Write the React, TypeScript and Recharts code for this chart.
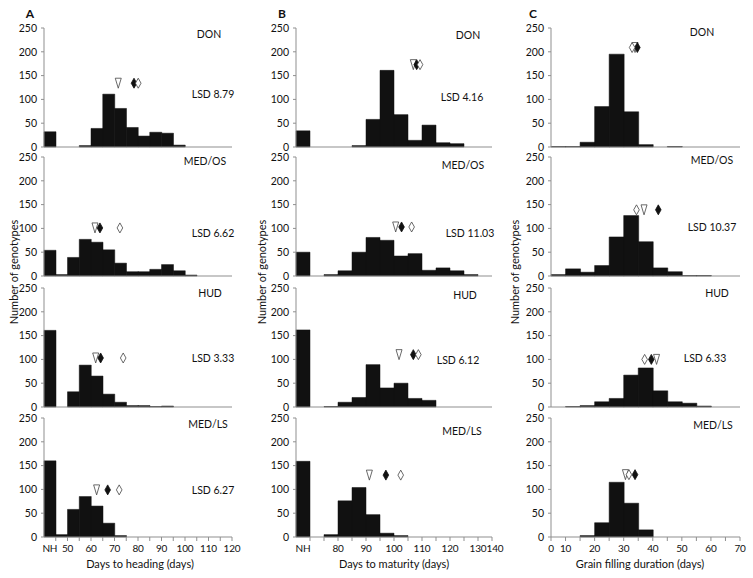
import React from "react";
import { ComposedChart, Bar, Scatter, XAxis, YAxis, ReferenceLine } from "recharts";

const FONT = "Lato, 'Open Sans', Arial, sans-serif";
const AXIS = "#8f8f8f";
const INK = "#111111";

const sites = ["DON", "MED/OS", "HUD", "MED/LS"];
const countTicks = [0, 50, 100, 150, 200, 250];

// A - days to heading, 5-day bins, first bin = genotypes that did not head (NH)
const headingBins = [40, 45, 50, 55, 60, 65, 70, 75, 80, 85, 90, 95, 100, 105, 110, 115];
const headingDON = [32, 0, 0, 3, 39, 111, 81, 41, 23, 31, 29, 4, 0, 0, 0, 0];
const headingMEDOS = [54, 3, 39, 77, 71, 55, 27, 9, 9, 14, 24, 11, 2, 0, 0, 0];
const headingHUD = [161, 0, 32, 88, 65, 27, 10, 3, 3, 1, 2, 0, 0, 0, 0, 0];
const headingMEDLS = [160, 5, 58, 85, 65, 29, 3, 0, 0, 0, 0, 0, 0, 0, 0, 0];
const headingTicks = [42.5, 45, 50, 55, 60, 65, 70, 75, 80, 85, 90, 95, 100, 105, 110, 115, 120];
const headingTickText = ["NH", "", "50", "", "60", "", "70", "", "80", "", "90", "", "100", "", "110", "", "120"];
const headingLSD = ["8.79", "6.62", "3.33", "6.27"];
const headingTri = [71.6, 61.7, 62.0, 62.4];
const headingDia = [78.3, 63.8, 64.1, 67.1];
const headingOpen = [80.1, 72.3, 73.7, 72.0];
const headingMarkY = [134, 101, 103, 99];

// B - days to maturity
const maturityBins = [65, 70, 75, 80, 85, 90, 95, 100, 105, 110, 115, 120, 125, 130];
const maturityDON = [34, 0, 0, 0, 3, 58, 161, 68, 14, 46, 9, 7, 0, 0];
const maturityMEDOS = [50, 0, 3, 11, 50, 81, 75, 42, 47, 12, 17, 11, 3, 0];
const maturityHUD = [162, 0, 1, 10, 20, 89, 40, 50, 18, 14, 0, 0, 0, 0];
const maturityMEDLS = [159, 0, 5, 76, 104, 47, 8, 3, 0, 0, 0, 0, 0, 0];
const maturityTicks = [67.5, 70, 75, 80, 85, 90, 95, 100, 105, 110, 115, 120, 125, 130, 135];
const maturityTickText = ["NH", "", "", "80", "", "90", "", "100", "", "110", "", "120", "", "130", "140"];
const maturityLSD = ["4.16", "11.03", "6.12", ""];
const maturityTri = [106.9, 100.6, 101.8, 91.2];
const maturityDia = [108.1, 102.7, 106.9, 97.1];
const maturityOpen = [109.3, 106.3, 108.7, 102.4];
const maturityMarkY = [173, 103, 110, 130];

// C - grain filling duration, first bin covers 0-10 days
const grainBins = [5, 10, 15, 20, 25, 30, 35, 40, 45, 50, 55, 60, 65];
const grainDON = [1, 1, 10, 85, 195, 74, 5, 0, 1, 0, 0, 0, 0];
const grainMEDOS = [3, 15, 8, 22, 82, 127, 72, 17, 9, 1, 1, 0, 0];
const grainHUD = [0, 1, 3, 11, 18, 67, 82, 34, 11, 8, 2, 0, 0];
const grainMEDLS = [0, 0, 3, 30, 115, 71, 15, 0, 0, 0, 0, 0, 0];
const grainTicks = [5, 10, 15, 20, 25, 30, 35, 40, 45, 50, 55, 60, 65, 70];
const grainTickText = ["0", "10", "", "20", "", "30", "", "40", "", "50", "", "60", "", "70"];
const grainLSD = ["", "10.37", "6.33", ""];
const grainTri = [33.9, 37.0, 41.3, 30.6];
const grainDia = [34.7, 41.9, 39.5, 33.9];
const grainOpen = [32.9, 34.4, 37.2, 31.8];
const grainMarkY = [209, 139, 100, 131];

// layout
const PLOT_H = 119;
const TOP_M = 6;
const RIGHT_M = 14;
const rowTops = [28, 157, 288, 418];

const columns = [
  {
    letter: "A", plotLeft: 44, plotW: 188, bins: headingBins,
    counts: [headingDON, headingMEDOS, headingHUD, headingMEDLS],
    ticks: headingTicks, tickText: headingTickText, lsd: headingLSD,
    tri: headingTri, dia: headingDia, open: headingOpen, markY: headingMarkY,
    title: "Days to heading (days)", titleX: 140, letterX: 30, yTitleX: 14, lastDx: 0,
    siteX: [209, 205, 210, 208], siteY: [34, 161, 293, 424],
    lsdX: [213, 213, 213, 213], lsdY: [94, 233, 358, 490],
  },
  {
    letter: "B", plotLeft: 296, plotW: 196, bins: maturityBins,
    counts: [maturityDON, maturityMEDOS, maturityHUD, maturityMEDLS],
    ticks: maturityTicks, tickText: maturityTickText, lsd: maturityLSD,
    tri: maturityTri, dia: maturityDia, open: maturityOpen, markY: maturityMarkY,
    title: "Days to maturity (days)", titleX: 394, letterX: 282, yTitleX: 262, lastDx: 3,
    siteX: [468, 463, 465, 462], siteY: [35, 165, 295, 431],
    lsdX: [462, 470, 458, 0], lsdY: [97, 233, 360, 0],
  },
  {
    letter: "C", plotLeft: 551, plotW: 189, bins: grainBins,
    counts: [grainDON, grainMEDOS, grainHUD, grainMEDLS],
    ticks: grainTicks, tickText: grainTickText, lsd: grainLSD,
    tri: grainTri, dia: grainDia, open: grainOpen, markY: grainMarkY,
    title: "Grain filling duration (days)", titleX: 640, letterX: 533, yTitleX: 515, lastDx: 0,
    siteX: [702, 712, 717, 713], siteY: [32, 160, 293, 425],
    lsdX: [0, 712, 705, 0], lsdY: [0, 227, 358, 0],
  },
];

function renderMark(props: any) {
  const { cx, cy, payload } = props;
  if (cx == null || cy == null) return <g />;
  if (payload.kind === "tri") {
    return (
      <polygon
        points={`${cx - 3},${cy - 5} ${cx + 3},${cy - 5} ${cx},${cy + 5}`}
        fill="#fff" stroke="#444" strokeWidth={0.8}
      />
    );
  }
  return (
    <polygon
      points={`${cx},${cy - 5} ${cx + 2.8},${cy} ${cx},${cy + 5} ${cx - 2.8},${cy}`}
      fill={payload.kind === "dia" ? INK : "#fff"}
      stroke={payload.kind === "dia" ? INK : "#444"} strokeWidth={0.8}
    />
  );
}

function makeTick(ticks: number[], texts: string[], lastDx: number) {
  // axis line sits at the bottom of the plot area
  const axisY = TOP_M + PLOT_H;
  return (props: any) => {
    const { x, payload } = props;
    const i = ticks.indexOf(payload.value);
    const text = i >= 0 ? texts[i] : "";
    const dx = i === ticks.length - 1 ? lastDx : 0;
    return (
      <g>
        {text !== "NH" && <line x1={x} x2={x} y1={axisY} y2={axisY + 4} stroke={AXIS} />}
        <text x={x + dx} y={axisY + 15} textAnchor="middle" fontSize={10} letterSpacing={-0.2} fill={INK} fontFamily={FONT}>
          {text}
        </text>
      </g>
    );
  };
}

function Panel({ col, row }: { col: any; row: number }) {
  const bottom = row === 3;
  const data = col.bins.map((b: number, i: number) => ({ bin: b, count: col.counts[row][i] }));
  const marks = [
    { x: col.tri[row], y: col.markY[row], kind: "tri" },
    { x: col.dia[row], y: col.markY[row], kind: "dia" },
    { x: col.open[row], y: col.markY[row], kind: "open" },
  ];
  const lo = col.ticks[0] - (col.ticks[1] - col.ticks[0]) * (col.tickText[0] === "NH" ? 1 : 0);
  const hi = col.ticks[col.ticks.length - 1];
  const axisH = bottom ? 40 : 1;
  const bottomM = bottom ? 0 : 7;
  return (
    <div style={{ position: "absolute", left: col.plotLeft - 30, top: rowTops[row] - TOP_M }}>
      <ComposedChart
        width={30 + col.plotW + RIGHT_M}
        height={TOP_M + PLOT_H + axisH + bottomM}
        data={data}
        margin={{ top: TOP_M, right: RIGHT_M, bottom: bottomM, left: 0 }}
        barCategoryGap={0}
        barGap={0}
      >
        <XAxis xAxisId="cat" dataKey="bin" type="category" hide />
        <XAxis
          xAxisId="num"
          dataKey="x"
          type="number"
          domain={[lo, hi]}
          allowDataOverflow
          ticks={bottom ? col.ticks : []}
          interval={0}
          height={axisH}
          axisLine={false}
          tickLine={false}
          tickSize={4}
          tickMargin={2}
          tick={bottom ? makeTick(col.ticks, col.tickText, col.lastDx) : false}
        />
        <YAxis
          domain={[0, 250]}
          ticks={countTicks}
          interval={0}
          width={30}
          axisLine={{ stroke: AXIS }}
          tickLine={{ stroke: AXIS }}
          tickSize={3}
          tickMargin={4}
          tick={{ fontSize: 10.5, fill: INK, fontFamily: FONT }}
        />
        <Bar xAxisId="cat" dataKey="count" fill={INK} stroke={INK} strokeWidth={0.5} isAnimationActive={false} />
        <ReferenceLine xAxisId="num" y={0} stroke={AXIS} ifOverflow="extendDomain" />
        <Scatter xAxisId="num" data={marks} dataKey="y" shape={renderMark} isAnimationActive={false} />
      </ComposedChart>
    </div>
  );
}

export default function App() {
  return (
    <div style={{ position: "absolute", left: 0, top: 0, width: 753, height: 578, background: "#fff", overflow: "hidden" }}>
      {columns.map((col) => sites.map((s, r) => <Panel key={col.letter + s} col={col} row={r} />))}
      <svg width={753} height={578} style={{ position: "absolute", left: 0, top: 0, pointerEvents: "none" }} fontFamily={FONT} fill={INK}>
        {columns.map((col) => (
          <g key={col.letter}>
            <text x={col.letterX} y={18} fontSize={12} fontWeight="bold" textAnchor="middle">{col.letter}</text>
            <text x={col.titleX} y={568} fontSize={11} textAnchor="middle">{col.title}</text>
            <text x={col.yTitleX} y={272} fontSize={11} textAnchor="middle" transform={`rotate(-90 ${col.yTitleX} 272)`} dy={4}>
              Number of genotypes
            </text>
            {sites.map((s, r) => (
              <text key={s} x={col.siteX[r]} y={col.siteY[r] + 4} fontSize={10.5} textAnchor="middle">{s}</text>
            ))}
            {col.lsd.map((v: string, r: number) =>
              v ? (
                <text key={r} x={col.lsdX[r]} y={col.lsdY[r] + 4} fontSize={10.5} textAnchor="middle">{"LSD " + v}</text>
              ) : null
            )}
          </g>
        ))}
      </svg>
    </div>
  );
}
